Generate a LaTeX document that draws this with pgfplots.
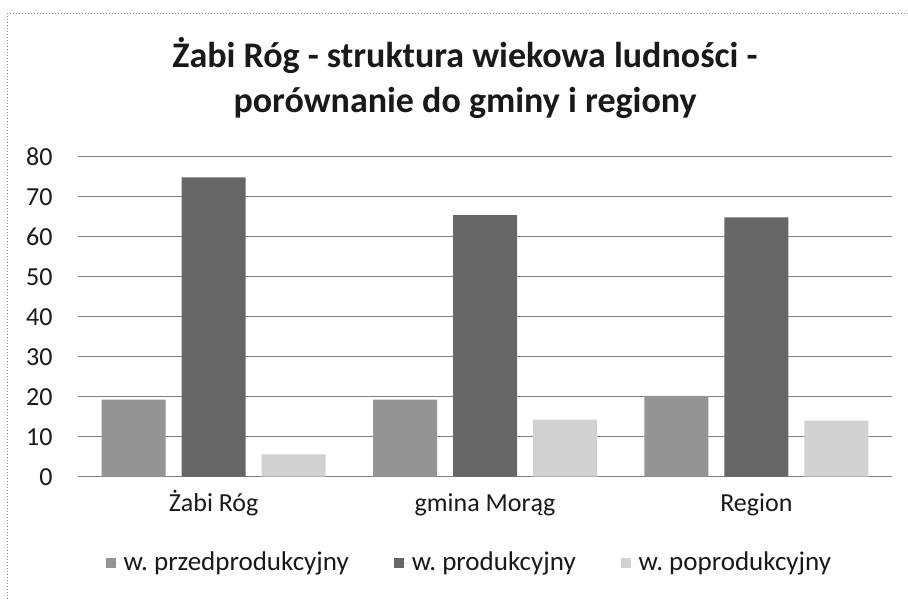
\documentclass[border=0pt]{standalone}
\usepackage{pgfplots}
\pgfplotsset{compat=1.18}
\usepackage{fontspec}
\setmainfont{Carlito}
\frenchspacing
\pgfplotsset{sq legend/.style={legend image code/.code={\path (0pt,0pt) -- (7pt,0pt);\fill[##1] (0pt,-2.5pt) rectangle (5pt,2.5pt);}}}
\begin{document}
\frenchspacing
\begin{tikzpicture}
\path[use as bounding box] (0,0) rectangle (454pt,299.5pt);
\draw[black!45, densely dotted, line width=0.5pt] (3.5pt,0) -- (3.5pt,292.5pt) -- (454pt,292.5pt);
\node[anchor=base, font=\fontsize{18}{21}\selectfont\bfseries, text=black!90] at (232.5pt,265.5pt) {Żabi Róg - struktura wiekowa ludności -};
\node[anchor=base, font=\fontsize{18}{21}\selectfont\bfseries, text=black!90] at (232.5pt,243pt) {porównanie do gminy i regiony};
\begin{axis}[
  at={(39pt,61.15pt)}, anchor=south west,
  scale only axis, width=407pt, height=160pt,
  ybar=8pt, bar width=32pt,
  xmin=-0.5, xmax=2.5, ymin=0, ymax=80,
  xtick=data, xticklabels={Żabi Róg, gmina Morąg, Region},
  ytick={0,10,...,80},
  ymajorgrids, major grid style={black!50, line width=0.5pt},
  axis line style={draw=none}, tick style={draw=none}, major tick length=0pt,
  tick label style={font=\fontsize{13}{15}\selectfont, text=black!90},
  yticklabel style={anchor=east, inner sep=0pt, xshift=-12.5pt},
  xticklabel style={anchor=base, inner sep=0pt, yshift=-17.6pt},
  /pgf/number format/assume math mode=true,
  legend columns=3,
  legend style={at={(0.482,-0.27)}, anchor=center, draw=none,
    font=\fontsize{13.5}{15}\selectfont, text=black!90,
    /tikz/every even column/.append style={column sep=20.5pt}},
]
\addplot[fill=black!42, draw=none, sq legend] coordinates {(0,19.3) (1,19.3) (2,20.2)};
\addplot[fill=black!60, draw=none, sq legend] coordinates {(0,74.8) (1,65.4) (2,64.8)};
\addplot[fill=black!18, draw=none, sq legend] coordinates {(0,5.6) (1,14.3) (2,14.0)};
\legend{w. przedprodukcyjny, w. produkcyjny, w. poprodukcyjny}
\end{axis}
\end{tikzpicture}
\end{document}
